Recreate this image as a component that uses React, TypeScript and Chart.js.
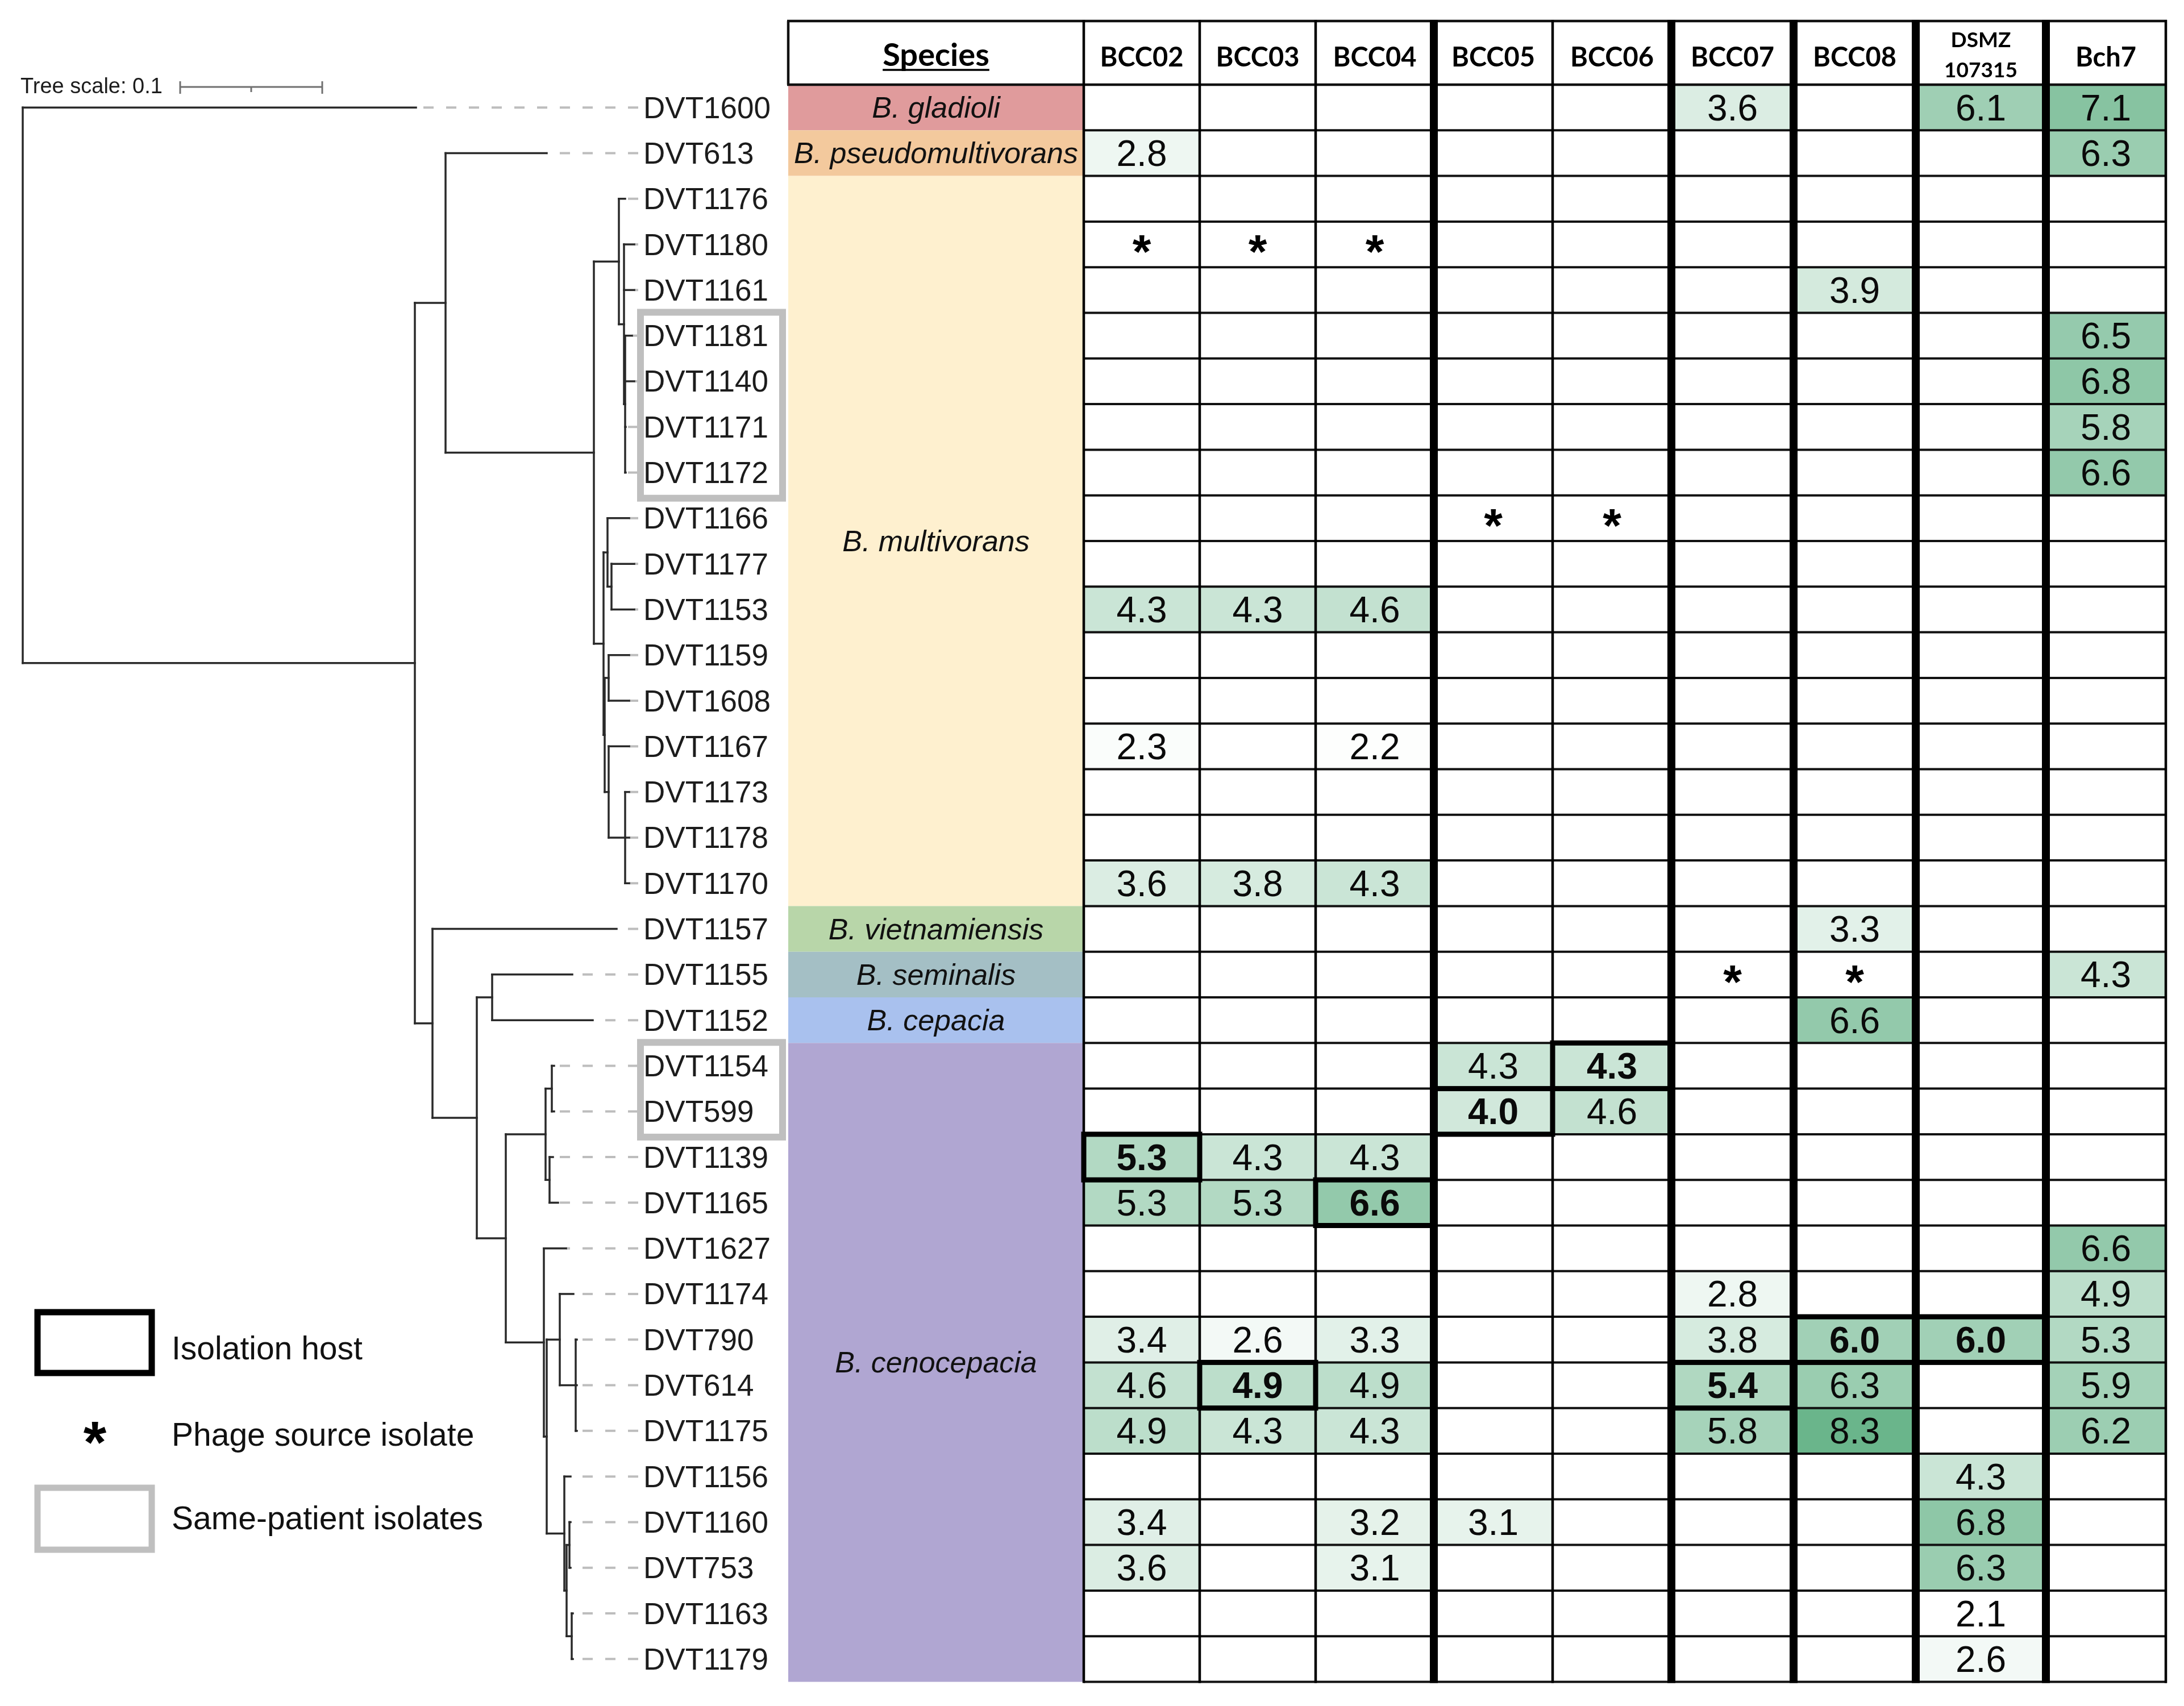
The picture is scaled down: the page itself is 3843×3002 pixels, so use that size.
import React, { useEffect, useRef } from 'react';
import { Chart, registerables } from 'chart.js';

Chart.register(...registerables);

// ---------------- DATA ----------------
const ISOLATES = [
  'DVT1600', 'DVT613', 'DVT1176', 'DVT1180', 'DVT1161', 'DVT1181', 'DVT1140', 'DVT1171', 'DVT1172',
  'DVT1166', 'DVT1177', 'DVT1153', 'DVT1159', 'DVT1608', 'DVT1167', 'DVT1173', 'DVT1178', 'DVT1170',
  'DVT1157', 'DVT1155', 'DVT1152', 'DVT1154', 'DVT599', 'DVT1139', 'DVT1165', 'DVT1627', 'DVT1174',
  'DVT790', 'DVT614', 'DVT1175', 'DVT1156', 'DVT1160', 'DVT753', 'DVT1163', 'DVT1179',
];

const SPECIES = ['B. gladioli', 'B. pseudomultivorans', 'B. multivorans', 'B. vietnamiensis', 'B. seminalis', 'B. cepacia', 'B. cenocepacia'];
const SPECIES_ROWS = [1, 1, 16, 1, 1, 1, 14];
const SPECIES_COLORS = ['#E09B9C', '#F3C99D', '#FEF0CF', '#B8D6A9', '#A4BFC5', '#A9C1EE', '#B0A6D2'];

const PHAGES = ['BCC02', 'BCC03', 'BCC04', 'BCC05', 'BCC06', 'BCC07', 'BCC08', 'DSMZ 107315', 'Bch7'];
const THICK_AFTER = ['BCC04', 'BCC06', 'BCC07', 'BCC08', 'DSMZ 107315'];

const BCC02_VALUES: [string, number][] = [
  ['DVT613', 2.8], ['DVT1153', 4.3], ['DVT1167', 2.3], ['DVT1170', 3.6], ['DVT1139', 5.3], ['DVT1165', 5.3],
  ['DVT790', 3.4], ['DVT614', 4.6], ['DVT1175', 4.9], ['DVT1160', 3.4], ['DVT753', 3.6],
];
const BCC03_VALUES: [string, number][] = [
  ['DVT1153', 4.3], ['DVT1170', 3.8], ['DVT1139', 4.3], ['DVT1165', 5.3], ['DVT790', 2.6], ['DVT614', 4.9], ['DVT1175', 4.3],
];
const BCC04_VALUES: [string, number][] = [
  ['DVT1153', 4.6], ['DVT1167', 2.2], ['DVT1170', 4.3], ['DVT1139', 4.3], ['DVT1165', 6.6], ['DVT790', 3.3],
  ['DVT614', 4.9], ['DVT1175', 4.3], ['DVT1160', 3.2], ['DVT753', 3.1],
];
const BCC05_VALUES: [string, number][] = [['DVT1154', 4.3], ['DVT599', 4.0], ['DVT1160', 3.1]];
const BCC06_VALUES: [string, number][] = [['DVT1154', 4.3], ['DVT599', 4.6]];
const BCC07_VALUES: [string, number][] = [['DVT1600', 3.6], ['DVT1174', 2.8], ['DVT790', 3.8], ['DVT614', 5.4], ['DVT1175', 5.8]];
const BCC08_VALUES: [string, number][] = [['DVT1161', 3.9], ['DVT1157', 3.3], ['DVT1152', 6.6], ['DVT790', 6.0], ['DVT614', 6.3], ['DVT1175', 8.3]];
const DSMZ_VALUES: [string, number][] = [
  ['DVT1600', 6.1], ['DVT790', 6.0], ['DVT1156', 4.3], ['DVT1160', 6.8], ['DVT753', 6.3], ['DVT1163', 2.1], ['DVT1179', 2.6],
];
const BCH7_VALUES: [string, number][] = [
  ['DVT1600', 7.1], ['DVT613', 6.3], ['DVT1181', 6.5], ['DVT1140', 6.8], ['DVT1171', 5.8], ['DVT1172', 6.6],
  ['DVT1155', 4.3], ['DVT1627', 6.6], ['DVT1174', 4.9], ['DVT790', 5.3], ['DVT614', 5.9], ['DVT1175', 6.2],
];

const PHAGE_SOURCES: [string, string][] = [
  ['DVT1180', 'BCC02'], ['DVT1180', 'BCC03'], ['DVT1180', 'BCC04'],
  ['DVT1166', 'BCC05'], ['DVT1166', 'BCC06'], ['DVT1155', 'BCC07'], ['DVT1155', 'BCC08'],
];
const ISOLATION_HOSTS: [string, string][] = [
  ['DVT1154', 'BCC06'], ['DVT599', 'BCC05'], ['DVT1139', 'BCC02'], ['DVT1165', 'BCC04'],
  ['DVT790', 'BCC08'], ['DVT790', 'DSMZ 107315'], ['DVT614', 'BCC03'], ['DVT614', 'BCC07'],
];
const SAME_PATIENT: [string, string][] = [['DVT1181', 'DVT1172'], ['DVT1154', 'DVT599']];

// tree: [node, parent, cumulative distance from root]
const TREE: [string, string | null, number][] = [
  ['root', null, 0],
  ['DVT1600', 'root', 0.2768],
  ['A', 'root', 0.276],
  ['B', 'A', 0.2976],
  ['DVT613', 'B', 0.3688],
  ['D', 'B', 0.402],
  ['E', 'D', 0.4196],
  ['DVT1176', 'E', 0.424],
  ['E2', 'E', 0.4232],
  ['DVT1180', 'E2', 0.4304],
  ['DVT1161', 'E2', 0.4304],
  ['E3', 'E2', 0.424],
  ['DVT1181', 'E3', 0.4288],
  ['DVT1140', 'E3', 0.4304],
  ['DVT1171', 'E3', 0.4244],
  ['DVT1172', 'E3', 0.4244],
  ['F', 'D', 0.4088],
  ['F1', 'F', 0.4116],
  ['DVT1166', 'F1', 0.4268],
  ['F1a', 'F1', 0.4144],
  ['DVT1177', 'F1a', 0.4304],
  ['DVT1153', 'F1a', 0.4304],
  ['F23', 'F', 0.4096],
  ['F2', 'F23', 0.4124],
  ['DVT1159', 'F2', 0.4268],
  ['DVT1608', 'F2', 0.4268],
  ['F3', 'F23', 0.4124],
  ['DVT1167', 'F3', 0.4268],
  ['F3b', 'F3', 0.424],
  ['DVT1173', 'F3b', 0.4268],
  ['DVT1178', 'F3b', 0.4268],
  ['DVT1170', 'F3b', 0.4268],
  ['C', 'A', 0.2884],
  ['DVT1157', 'C', 0.418],
  ['G', 'C', 0.3196],
  ['H', 'G', 0.3304],
  ['DVT1155', 'H', 0.3868],
  ['DVT1152', 'H', 0.4012],
  ['I', 'G', 0.34],
  ['J', 'I', 0.368],
  ['J1', 'J', 0.3724],
  ['DVT1154', 'J1', 0.374],
  ['DVT599', 'J1', 0.374],
  ['J2', 'J', 0.3708],
  ['DVT1139', 'J2', 0.3732],
  ['DVT1165', 'J2', 0.3768],
  ['K', 'I', 0.3668],
  ['DVT1627', 'K', 0.3824],
  ['L', 'K', 0.3688],
  ['M', 'L', 0.378],
  ['DVT1174', 'M', 0.3876],
  ['N', 'M', 0.3892],
  ['DVT790', 'N', 0.39],
  ['DVT614', 'N', 0.39],
  ['DVT1175', 'N', 0.39],
  ['O', 'L', 0.3812],
  ['DVT1156', 'O', 0.3856],
  ['P', 'O', 0.3828],
  ['Q', 'P', 0.3848],
  ['DVT1160', 'Q', 0.3856],
  ['DVT753', 'Q', 0.3856],
  ['R', 'P', 0.3864],
  ['DVT1163', 'R', 0.3872],
  ['DVT1179', 'R', 0.3872],
];
const TREE_SCALE = 0.1;

const LEGEND_ITEMS = ['Isolation host', 'Phage source isolate', 'Same-patient isolates'];

// ---------------- LAYOUT ----------------
const W = 3843;
const H = 3002;
const TABLE_TOP = 149;
const ROW_H = 80.3;
const HEADER_TOP = 37;
const TREE_X0 = 40;
const TREE_PX_PER_UNIT = 2500;
const LABEL_X = 1132;
const SPECIES_LEFT = 1387;
const COL_EDGES = [1907, 2111, 2315, 2523, 2732, 2941, 3156, 3371, 3600, 3811];
const VMIN = 2.1;
const VMAX = 8.3;
const HIGH_RGB = [106, 181, 139];

const SANS = '"Liberation Sans", Arial, sans-serif';
const HEAD = 'Lato, "Open Sans", sans-serif';

function valueColor(v: number) {
  const f = Math.max(0, Math.min(1, (v - VMIN) / (VMAX - VMIN)));
  const c = HIGH_RGB.map((h) => Math.round(255 + (h - 255) * f));
  return `rgb(${c[0]},${c[1]},${c[2]})`;
}

const PHAGE_VALUES: [string, number][][] = [
  BCC02_VALUES, BCC03_VALUES, BCC04_VALUES, BCC05_VALUES, BCC06_VALUES,
  BCC07_VALUES, BCC08_VALUES, DSMZ_VALUES, BCH7_VALUES,
];

const figurePlugin = {
  id: 'figure',
  beforeDraw(chart: any) {
    const ctx = chart.ctx;
    ctx.save();
    ctx.fillStyle = '#ffffff';
    ctx.fillRect(0, 0, chart.width, chart.height);
    ctx.restore();
  },
  afterDraw(chart: any) {
    const ctx: CanvasRenderingContext2D = chart.ctx;
    const sx = chart.scales.x;
    const st = chart.scales.xTree;
    const sy = chart.scales.y;
    const X = (v: number) => sx.getPixelForValue(v);
    const T = (d: number) => st.getPixelForValue(d);
    const Yc = (r: number) => sy.getPixelForValue(r);
    const Yt = (r: number) => sy.getPixelForValue(r - 0.5);
    const Yb = (r: number) => sy.getPixelForValue(r + 0.5);
    const rowOf = (name: string) => ISOLATES.indexOf(name);
    const colOf = (name: string) => PHAGES.indexOf(name);
    const nRows = ISOLATES.length;

    const capText = (text: string, x: number, cy: number, font: string, align: CanvasTextAlign = 'center', color = '#111') => {
      ctx.font = font;
      ctx.fillStyle = color;
      ctx.textAlign = align;
      ctx.textBaseline = 'alphabetic';
      const cap = ctx.measureText('H').actualBoundingBoxAscent;
      ctx.fillText(text, x, cy + cap / 2);
    };
    const boxText = (text: string, x: number, cy: number, font: string) => {
      ctx.font = font;
      ctx.fillStyle = '#000';
      ctx.textAlign = 'center';
      ctx.textBaseline = 'alphabetic';
      const m = ctx.measureText(text);
      ctx.fillText(text, x, cy + (m.actualBoundingBoxAscent - m.actualBoundingBoxDescent) / 2);
    };
    const line = (x1: number, y1: number, x2: number, y2: number, w: number, color: string) => {
      ctx.beginPath();
      ctx.lineWidth = w;
      ctx.strokeStyle = color;
      ctx.moveTo(x1, y1);
      ctx.lineTo(x2, y2);
      ctx.stroke();
    };

    ctx.save();

    // ---- species bands ----
    let r0 = 0;
    SPECIES.forEach((sp, i) => {
      const n = SPECIES_ROWS[i];
      ctx.fillStyle = SPECIES_COLORS[i];
      ctx.fillRect(X(SPECIES_LEFT), Yt(r0), X(COL_EDGES[0]) - X(SPECIES_LEFT), Yb(r0 + n - 1) - Yt(r0));
      const cy = (Yt(r0) + Yb(r0 + n - 1)) / 2;
      capText(sp, (X(SPECIES_LEFT) + X(COL_EDGES[0])) / 2, cy, `italic 52px ${SANS}`);
      r0 += n;
    });

    // ---- cell fills ----
    PHAGE_VALUES.forEach((vals, j) => {
      const x1 = X(COL_EDGES[j]);
      const x2 = X(COL_EDGES[j + 1]);
      vals.forEach(([iso, v]) => {
        const r = rowOf(iso);
        ctx.fillStyle = valueColor(v);
        ctx.fillRect(x1, Yt(r), x2 - x1, Yb(r) - Yt(r));
      });
    });

    // ---- grid ----
    ctx.lineCap = 'butt';
    const tableLeft = X(COL_EDGES[0]);
    const tableRight = X(COL_EDGES[COL_EDGES.length - 1]);
    const headTop = sy.getPixelForValue(-0.5) - (TABLE_TOP - HEADER_TOP);
    line(X(SPECIES_LEFT) - 2, headTop, tableRight + 2, headTop, 4.5, '#111');
    line(X(SPECIES_LEFT) - 2, Yt(0), tableRight + 2, Yt(0), 4.5, '#111');
    for (let r = 1; r <= nRows; r++) line(tableLeft, Yt(r), tableRight + 2, Yt(r), 4, '#111');
    line(X(SPECIES_LEFT), headTop, X(SPECIES_LEFT), Yt(0), 4.5, '#111');
    COL_EDGES.forEach((e, k) => {
      const thick = k > 0 && k < PHAGES.length && THICK_AFTER.includes(PHAGES[k - 1]);
      line(X(e), headTop - 2, X(e), Yb(nRows - 1) + 2, thick ? 14 : 4.5, '#000');
    });

    // ---- isolation host boxes ----
    ISOLATION_HOSTS.forEach(([iso, ph]) => {
      const r = rowOf(iso);
      const j = colOf(ph);
      ctx.lineWidth = 9;
      ctx.strokeStyle = '#000';
      ctx.strokeRect(X(COL_EDGES[j]), Yt(r), X(COL_EDGES[j + 1]) - X(COL_EDGES[j]), Yb(r) - Yt(r));
    });

    // ---- header ----
    const spCx = (X(SPECIES_LEFT) + X(COL_EDGES[0])) / 2;
    capText('Species', spCx, headTop + 59, `bold 56px ${HEAD}`, 'center', '#000');
    ctx.font = `bold 56px ${HEAD}`;
    const spW = ctx.measureText('Species').width;
    line(spCx - spW / 2, headTop + 86, spCx + spW / 2, headTop + 86, 3.5, '#000');
    PHAGES.forEach((ph, j) => {
      const cx = (X(COL_EDGES[j]) + X(COL_EDGES[j + 1])) / 2;
      const parts = ph.split(' ');
      if (parts.length > 1) {
        capText(parts[0], cx, headTop + 33, `bold 37px ${HEAD}`, 'center', '#000');
        capText(parts[1], cx, headTop + 86, `bold 37px ${HEAD}`, 'center', '#000');
      } else {
        capText(ph, cx, headTop + 62, `bold 47px ${HEAD}`, 'center', '#000');
      }
    });

    // ---- values ----
    PHAGE_VALUES.forEach((vals, j) => {
      const cx = (X(COL_EDGES[j]) + X(COL_EDGES[j + 1])) / 2;
      vals.forEach(([iso, v]) => {
        const r = rowOf(iso);
        const bold = ISOLATION_HOSTS.some(([a, b]) => a === iso && b === PHAGES[j]);
        capText(v.toFixed(1), cx, Yc(r), `${bold ? 'bold ' : ''}64px ${SANS}`, 'center', '#0a0a0a');
      });
    });
    PHAGE_SOURCES.forEach(([iso, ph]) => {
      const r = rowOf(iso);
      const j = colOf(ph);
      boxText('*', (X(COL_EDGES[j]) + X(COL_EDGES[j + 1])) / 2, Yc(r), `bold 84px ${SANS}`);
    });

    // ---- tree ----
    const nodes: Record<string, { parent: string | null; depth: number; children: string[]; y: number }> = {};
    TREE.forEach(([id, parent, depth]) => {
      nodes[id] = { parent, depth, children: [], y: 0 };
    });
    TREE.forEach(([id, parent]) => {
      if (parent) nodes[parent].children.push(id);
    });
    const computeY = (id: string): number => {
      const n = nodes[id];
      if (n.children.length === 0) {
        n.y = Yc(rowOf(id));
      } else {
        const ys = n.children.map(computeY);
        n.y = (Math.min(...ys) + Math.max(...ys)) / 2;
      }
      return n.y;
    };
    computeY('root');

    // dashed leaders
    ctx.setLineDash([18, 22]);
    ctx.lineCap = 'butt';
    ISOLATES.forEach((iso) => {
      const n = nodes[iso];
      const tx = T(n.depth);
      const endX = X(LABEL_X) - 9;
      if (endX - tx > 3) line(endX, n.y, tx, n.y, 4, '#BDBDBD');
    });
    ctx.setLineDash([]);

    // branches
    ctx.lineCap = 'square';
    Object.keys(nodes).forEach((id) => {
      const n = nodes[id];
      if (n.children.length) {
        const ys = n.children.map((c) => nodes[c].y);
        line(T(n.depth), Math.min(...ys), T(n.depth), Math.max(...ys), 3.5, '#2a2a2a');
      }
      if (n.parent) {
        const p = nodes[n.parent];
        line(T(p.depth), n.y, T(n.depth), n.y, 3.5, '#2a2a2a');
      }
    });
    ctx.lineCap = 'butt';

    // tip labels
    ISOLATES.forEach((iso, r) => {
      capText(iso, X(LABEL_X), Yc(r), `53px ${SANS}`, 'left', '#1c1c1c');
    });

    // same-patient boxes
    SAME_PATIENT.forEach(([a, b]) => {
      const ra = rowOf(a);
      const rb = rowOf(b);
      const top = Yt(ra) - 1;
      const bot = Yb(rb) + 5;
      ctx.lineWidth = 12;
      ctx.strokeStyle = '#BFBFBF';
      ctx.strokeRect(X(1127), top, X(1377) - X(1127), bot - top);
    });

    // tree scale
    capText(`Tree scale: ${TREE_SCALE}`, X(36), 150, `38px ${SANS}`, 'left', '#1c1c1c');
    const bx0 = X(317);
    const blen = T(TREE_SCALE) - T(0);
    line(bx0, 153, bx0 + blen, 153, 3, '#707070');
    line(bx0, 143, bx0, 165, 3, '#707070');
    line(bx0 + blen, 143, bx0 + blen, 165, 3, '#707070');
    line(bx0 + blen / 2, 153, bx0 + blen / 2, 162, 3, '#707070');

    // legend
    ctx.lineWidth = 11;
    ctx.strokeStyle = '#000';
    ctx.strokeRect(X(66), 2309, X(267) - X(66), 107);
    ctx.strokeStyle = '#BFBFBF';
    ctx.strokeRect(X(66), 2618, X(267) - X(66), 109);
    boxText('*', X(167), 2521, `bold 104px ${SANS}`);
    capText(LEGEND_ITEMS[0], X(302), 2372, `57px ${SANS}`, 'left', '#111');
    capText(LEGEND_ITEMS[1], X(302), 2524, `57px ${SANS}`, 'left', '#111');
    capText(LEGEND_ITEMS[2], X(302), 2671, `57px ${SANS}`, 'left', '#111');

    ctx.restore();
  },
};

export default function App() {
  const ref = useRef<HTMLCanvasElement | null>(null);

  useEffect(() => {
    document.body.style.margin = '0';
    document.body.style.overflow = 'hidden';
    const canvas = ref.current;
    if (!canvas) return;

    const yMin = -TABLE_TOP / ROW_H - 0.5;
    const yMax = (H - TABLE_TOP) / ROW_H - 0.5;
    const tipPoints = TREE.filter(([id]) => ISOLATES.includes(id)).map(([id, , d]) => ({ x: d, y: ISOLATES.indexOf(id) }));

    const chart = new Chart(canvas, {
      type: 'scatter',
      data: {
        datasets: [
          {
            label: 'tips',
            data: tipPoints,
            xAxisID: 'xTree',
            yAxisID: 'y',
            pointRadius: 0,
            pointHoverRadius: 0,
          },
        ],
      },
      options: {
        animation: false,
        responsive: false,
        devicePixelRatio: 1,
        events: [],
        layout: { padding: 0 },
        plugins: { legend: { display: false }, tooltip: { enabled: false }, title: { display: false } },
        scales: {
          x: { type: 'linear', display: false, min: 0, max: W },
          xTree: {
            type: 'linear',
            axis: 'x',
            display: false,
            min: -TREE_X0 / TREE_PX_PER_UNIT,
            max: (W - TREE_X0) / TREE_PX_PER_UNIT,
          },
          y: { type: 'linear', display: false, reverse: true, min: yMin, max: yMax },
        },
      } as any,
      plugins: [figurePlugin],
    });

    let alive = true;
    if ((document as any).fonts && (document as any).fonts.ready) {
      (document as any).fonts.ready.then(() => {
        if (alive) chart.draw();
      });
    }
    return () => {
      alive = false;
      chart.destroy();
    };
  }, []);

  return <canvas ref={ref} width={W} height={H} style={{ display: 'block', width: W, height: H }} />;
}
